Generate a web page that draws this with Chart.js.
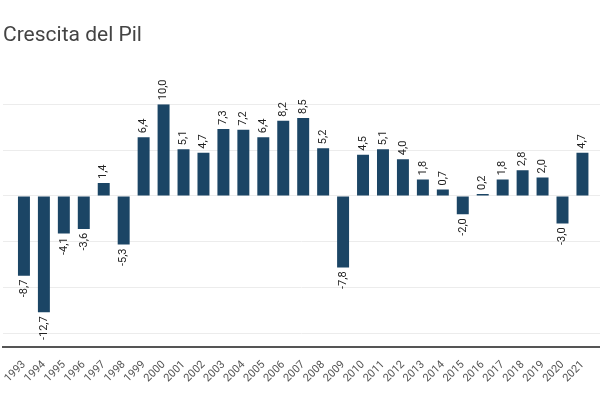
<!DOCTYPE html>
<html>
<head>
<meta charset="utf-8">
<script src="https://cdn.jsdelivr.net/npm/chart.js@4"></script>
<style>
  html, body { margin: 0; padding: 0; background: #fff; }
  #wrap { width: 600px; height: 400px; }
</style>
</head>
<body>
<div id="wrap"><canvas id="c"></canvas></div>
<script>
const years = ['1993','1994','1995','1996','1997','1998','1999','2000','2001','2002','2003','2004','2005','2006','2007','2008','2009','2010','2011','2012','2013','2014','2015','2016','2017','2018','2019','2020','2021'];
const growth = [-8.7,-12.7,-4.1,-3.6,1.4,-5.3,6.4,10.0,5.1,4.7,7.3,7.2,6.4,8.2,8.5,5.2,-7.8,4.5,5.1,4.0,1.8,0.7,-2.0,0.2,1.8,2.8,2.0,-3.0,4.7];
const titleText = 'Crescita del Pil';

const points = growth.map((v, i) => ({ x: i, y: v }));

const valueLabels = {
  id: 'valueLabels',
  afterDatasetsDraw(chart) {
    const ctx = chart.ctx;
    const meta = chart.getDatasetMeta(0);
    ctx.save();
    ctx.font = '11px Roboto';
    ctx.fillStyle = '#222';
    ctx.textBaseline = 'middle';
    meta.data.forEach((bar, i) => {
      const v = growth[i];
      const txt = v.toFixed(1).replace('.', ',');
      ctx.save();
      if (v >= 0) {
        ctx.translate(bar.x, bar.y - 4);
        ctx.rotate(-Math.PI / 2);
        ctx.textAlign = 'left';
      } else {
        ctx.translate(bar.x, bar.y + 4);
        ctx.rotate(-Math.PI / 2);
        ctx.textAlign = 'right';
      }
      ctx.fillText(txt, 0, 0);
      ctx.restore();
    });
    ctx.restore();
  }
};

new Chart(document.getElementById('c'), {
  type: 'bar',
  data: {
    datasets: [{
      data: points,
      backgroundColor: '#1b4565',
      barPercentage: 0.6,
      categoryPercentage: 1.0,
      borderWidth: 0
    }]
  },
  options: {
    responsive: true,
    maintainAspectRatio: false,
    animation: false,
    layout: { padding: { left: 3, right: 0, top: 0, bottom: 12 } },
    plugins: {
      legend: { display: false },
      tooltip: { enabled: false },
      title: {
        display: true,
        text: titleText,
        align: 'start',
        color: '#444',
        font: { family: 'Roboto', size: 21, weight: 'normal' },
        padding: { top: 23, bottom: 56 }
      }
    },
    scales: {
      x: {
        type: 'linear',
        offset: false,
        min: -1.05,
        max: 28.88,
        grid: { display: false, offset: false },
        border: { display: true, color: '#555', width: 2 },
        afterFit: (scale) => { scale.paddingLeft = 0; scale.paddingRight = 0; },
        ticks: {
          stepSize: 1,
          includeBounds: false,
          autoSkip: false,
          maxRotation: 45,
          minRotation: 45,
          color: '#555',
          font: { family: 'Roboto', size: 11 },
          callback: (val) => (Number.isInteger(val) && val >= 0 && val < years.length) ? years[val] : ''
        }
      },
      y: {
        min: -16.5,
        max: 10,
        grid: { color: '#ececec', lineWidth: 1, drawTicks: false },
        border: { display: false },
        ticks: { display: false, stepSize: 5 }
      }
    }
  },
  plugins: [valueLabels]
});
</script>
</body>
</html>
